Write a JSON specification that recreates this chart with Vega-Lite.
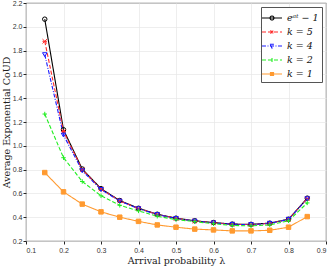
{
  "$schema": "https://vega.github.io/schema/vega-lite/v6.json",
  "width": 300,
  "height": 238,
  "autosize": {"type": "none"},
  "padding": {"left": 26, "top": 3, "right": 8, "bottom": 25},
  "background": "white",
  "config": {
    "view": {"stroke": "#262626", "strokeWidth": 0.8},
    "axis": {
      "gridColor": "#e6e6e6",
      "gridWidth": 0.7,
      "domain": false,
      "tickSize": 3,
      "tickColor": "#262626",
      "labelFont": "Liberation Sans",
      "labelFontSize": 7,
      "labelColor": "#333333",
      "titleFont": "DejaVu Serif",
      "titleFontSize": 9.5,
      "titleFontWeight": "normal",
      "titleColor": "#222222"
    }
  },
  "data": {"values": [
    {"x":0.15,"y":2.064,"s":"eᵃᵗ − 1"},{"x":0.2,"y":1.135,"s":"eᵃᵗ − 1"},{"x":0.25,"y":0.805,"s":"eᵃᵗ − 1"},{"x":0.3,"y":0.64,"s":"eᵃᵗ − 1"},{"x":0.35,"y":0.54,"s":"eᵃᵗ − 1"},{"x":0.4,"y":0.475,"s":"eᵃᵗ − 1"},{"x":0.45,"y":0.425,"s":"eᵃᵗ − 1"},{"x":0.5,"y":0.392,"s":"eᵃᵗ − 1"},{"x":0.55,"y":0.37,"s":"eᵃᵗ − 1"},{"x":0.6,"y":0.355,"s":"eᵃᵗ − 1"},{"x":0.65,"y":0.342,"s":"eᵃᵗ − 1"},{"x":0.7,"y":0.34,"s":"eᵃᵗ − 1"},{"x":0.75,"y":0.35,"s":"eᵃᵗ − 1"},{"x":0.8,"y":0.383,"s":"eᵃᵗ − 1"},{"x":0.85,"y":0.56,"s":"eᵃᵗ − 1"},
    {"x":0.15,"y":1.878,"s":"k = 5"},{"x":0.2,"y":1.12,"s":"k = 5"},{"x":0.25,"y":0.8,"s":"k = 5"},{"x":0.3,"y":0.637,"s":"k = 5"},{"x":0.35,"y":0.538,"s":"k = 5"},{"x":0.4,"y":0.473,"s":"k = 5"},{"x":0.45,"y":0.424,"s":"k = 5"},{"x":0.5,"y":0.39,"s":"k = 5"},{"x":0.55,"y":0.368,"s":"k = 5"},{"x":0.6,"y":0.353,"s":"k = 5"},{"x":0.65,"y":0.34,"s":"k = 5"},{"x":0.7,"y":0.338,"s":"k = 5"},{"x":0.75,"y":0.348,"s":"k = 5"},{"x":0.8,"y":0.382,"s":"k = 5"},{"x":0.85,"y":0.557,"s":"k = 5"},
    {"x":0.15,"y":1.766,"s":"k = 4"},{"x":0.2,"y":1.09,"s":"k = 4"},{"x":0.25,"y":0.79,"s":"k = 4"},{"x":0.3,"y":0.633,"s":"k = 4"},{"x":0.35,"y":0.535,"s":"k = 4"},{"x":0.4,"y":0.471,"s":"k = 4"},{"x":0.45,"y":0.422,"s":"k = 4"},{"x":0.5,"y":0.389,"s":"k = 4"},{"x":0.55,"y":0.367,"s":"k = 4"},{"x":0.6,"y":0.352,"s":"k = 4"},{"x":0.65,"y":0.34,"s":"k = 4"},{"x":0.7,"y":0.338,"s":"k = 4"},{"x":0.75,"y":0.348,"s":"k = 4"},{"x":0.8,"y":0.382,"s":"k = 4"},{"x":0.85,"y":0.555,"s":"k = 4"},
    {"x":0.15,"y":1.267,"s":"k = 2"},{"x":0.2,"y":0.9,"s":"k = 2"},{"x":0.25,"y":0.7,"s":"k = 2"},{"x":0.3,"y":0.58,"s":"k = 2"},{"x":0.35,"y":0.5,"s":"k = 2"},{"x":0.4,"y":0.453,"s":"k = 2"},{"x":0.45,"y":0.408,"s":"k = 2"},{"x":0.5,"y":0.38,"s":"k = 2"},{"x":0.55,"y":0.363,"s":"k = 2"},{"x":0.6,"y":0.345,"s":"k = 2"},{"x":0.65,"y":0.331,"s":"k = 2"},{"x":0.7,"y":0.327,"s":"k = 2"},{"x":0.75,"y":0.335,"s":"k = 2"},{"x":0.8,"y":0.37,"s":"k = 2"},{"x":0.85,"y":0.52,"s":"k = 2"},
    {"x":0.15,"y":0.775,"s":"k = 1"},{"x":0.2,"y":0.613,"s":"k = 1"},{"x":0.25,"y":0.51,"s":"k = 1"},{"x":0.3,"y":0.445,"s":"k = 1"},{"x":0.35,"y":0.4,"s":"k = 1"},{"x":0.4,"y":0.365,"s":"k = 1"},{"x":0.45,"y":0.335,"s":"k = 1"},{"x":0.5,"y":0.316,"s":"k = 1"},{"x":0.55,"y":0.3,"s":"k = 1"},{"x":0.6,"y":0.293,"s":"k = 1"},{"x":0.65,"y":0.285,"s":"k = 1"},{"x":0.7,"y":0.285,"s":"k = 1"},{"x":0.75,"y":0.29,"s":"k = 1"},{"x":0.8,"y":0.316,"s":"k = 1"},{"x":0.85,"y":0.405,"s":"k = 1"}
  ]},
  "encoding": {
    "x": {"field": "x", "type": "quantitative",
      "scale": {"domain": [0.1, 0.9], "nice": false, "zero": false},
      "axis": {"values": [0.1,0.2,0.3,0.4,0.5,0.6,0.7,0.8,0.9], "format": ".1f", "title": "Arrival probability λ", "titlePadding": 2, "labelPadding": 2}},
    "y": {"field": "y", "type": "quantitative",
      "scale": {"domain": [0.2, 2.2], "nice": false, "zero": false},
      "axis": {"values": [0.2,0.4,0.6,0.8,1,1.2,1.4,1.6,1.8,2,2.2], "title": "Average Exponential CoUD", "titlePadding": 1, "labelPadding": 1}}
  },
  "resolve": {"legend": {"color": "independent", "shape": "independent", "fill": "independent", "strokeDash": "independent"}},
  "layer": [
    {
      "mark": {"type": "line", "strokeWidth": 1.1},
      "encoding": {
        "color": {"field": "s", "type": "nominal",
          "scale": {"domain": ["eᵃᵗ − 1","k = 5","k = 4","k = 2","k = 1"], "range": ["#000000","#ff2a2a","#1a1aff","#22ee22","#ff9a30"]},
          "legend": {
            "title": null, "orient": "top-right", "offset": 4,
            "labelFont": "DejaVu Serif", "labelFontStyle": "italic", "labelFontSize": 9.5, "labelColor": "#111",
            "symbolSize": 196, "symbolStrokeWidth": 1.1, "rowPadding": 1, "labelOffset": 7,
            "strokeColor": "#555555", "fillColor": "white", "padding": 3, "cornerRadius": 0,
            "encode": {
              "symbols": {"update": {
                "shape": {"signal": "datum.value == 'k = 5' ? 'M-1.43,0H1.43M-0.22,-0.22L0.22,0.22M-0.22,0.22L0.22,-0.22' : datum.value == 'k = 4' ? 'M-1.43,0H1.43M-0.3,-0.25L0.3,-0.25L0,0.3Z' : datum.value == 'k = 2' ? 'M-1.43,0H1.43M0,-0.3V0.3' : datum.value == 'k = 1' ? 'M-1.43,0H1.43M-0.22,-0.22H0.22V0.22H-0.22Z' : 'M-1.43,0H1.43M-0.28,0A0.28,0.28 0 1,0 0.28,0A0.28,0.28 0 1,0 -0.28,0'"},
                "fill": {"signal": "datum.value == 'k = 1' ? '#ff9a30' : 'transparent'"},
                "opacity": {"value": 1}
              }}
            }
          }
        },
        "strokeDash": {"field": "s", "type": "nominal",
          "scale": {"domain": ["eᵃᵗ − 1","k = 5","k = 4","k = 2","k = 1"], "range": [[1,0],[4,2],[4,1.5,1,1.5],[4,2],[1,0]]},
          "legend": null}
      }
    },
    {
      "mark": {"type": "point", "filled": false, "strokeWidth": 1, "size": 20, "opacity": 1},
      "encoding": {
        "color": {"field": "s", "type": "nominal", "legend": null},
        "shape": {"field": "s", "type": "nominal",
          "scale": {"domain": ["eᵃᵗ − 1","k = 5","k = 4","k = 2","k = 1"], "range": ["circle","M-1,-1L1,1M-1,1L1,-1M-1,0H1","triangle-down","M-1,0H1M0,-1V1","square"]},
          "legend": null},
        "fill": {"field": "s", "type": "nominal",
          "scale": {"domain": ["eᵃᵗ − 1","k = 5","k = 4","k = 2","k = 1"], "range": ["transparent","#ff2a2a","transparent","transparent","#ff9a30"]},
          "legend": null}
      }
    }
  ]
}
